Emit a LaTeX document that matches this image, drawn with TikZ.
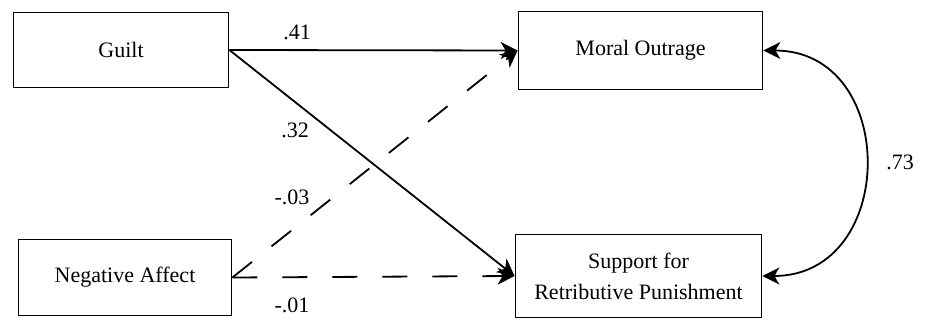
\documentclass[tikz,border=0pt]{standalone}
\usepackage{fontspec}
\setmainfont{Liberation Serif}
\usetikzlibrary{arrows.meta}
\begin{document}
\begin{tikzpicture}[x=1pt,y=-1pt,
  box/.style={draw, line width=1.8pt, inner sep=0pt, align=center,
    font=\fontsize{22}{31}\selectfont},
  lbl/.style={font=\fontsize{22}{26}\selectfont, inner sep=0pt},
  path/.style={line width=1.8pt, -{Stealth[length=17pt,width=17pt,inset=5pt]}},
  dashpath/.style={path, dash pattern=on 25pt off 25pt},
  corr/.style={line width=1.8pt, {Stealth[length=17pt,width=17pt,inset=5pt]}-{Stealth[length=17pt,width=17pt,inset=5pt]}}]
\useasboundingbox (0,0) rectangle (926,320);
\node[box, minimum width=215pt, minimum height=75pt] (guilt) at (121,50) {Guilt};
\node[box, minimum width=213pt, minimum height=76pt] (neg) at (125,277.5) {Negative Affect};
\node[box, minimum width=244pt, minimum height=78pt] (moral) at (640.5,50.5) {Moral Outrage};
\node[box, minimum width=246pt, minimum height=83pt] (supp) at (638.5,276) {Support for\\Retributive Punishment};
\draw[path] (guilt.east) -- (moral.west);
\draw[path] (guilt.east) -- (supp.west);
\draw[dashpath] (neg.east) -- (moral.west);
\draw[dashpath] (neg.east) -- (supp.west);
\draw[corr] (moral.east) .. controls +(136,0) and +(136,0) .. (supp.east);
\node[lbl] (l41) at (297,32) {.41};
\node[lbl] (l32) at (295,130) {.32};
\node[lbl] (l03) at (292,197) {-.03};
\node[lbl] (l01) at (292,305) {-.01};
\node[lbl] (l73) at (900,162) {.73};
\end{tikzpicture}
\end{document}
